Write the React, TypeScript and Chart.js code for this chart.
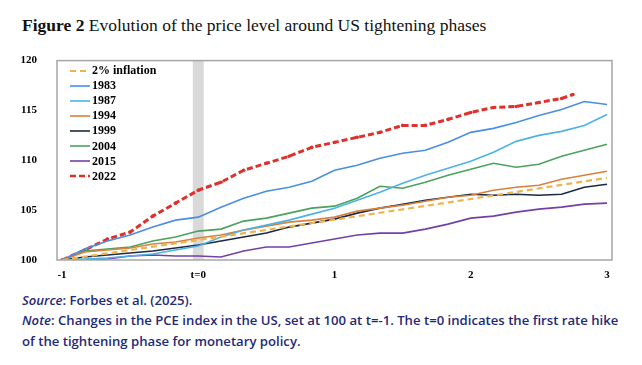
import React, { useEffect, useRef } from "react";
import { Chart, registerables } from "chart.js";
Chart.register(...registerables);

// months relative to t=0 (first rate hike); t = month / 12
const MONTHS = [-12, -10, -8, -6, -4, -2, 0, 2, 4, 6, 8, 10, 12, 14, 16, 18, 20, 22, 24, 26, 28, 30, 32, 34, 36];
const MONTHS_2022 = [-12, -10, -8, -6, -4, -2, 0, 2, 4, 6, 8, 10, 12, 14, 16, 18, 20, 22, 24, 26, 28, 30, 32, 33];
const MONTHS_TARGET = [-12, 0, 12, 24, 36];

const TARGET_2PCT = [100, 102, 104.04, 106.12, 108.24];
const S1983 = [100, 101.1, 101.9, 102.5, 103.3, 104.0, 104.3, 105.3, 106.2, 106.9, 107.3, 107.9, 109.0, 109.5, 110.2, 110.7, 111.0, 111.8, 112.8, 113.2, 113.8, 114.5, 115.1, 115.9, 115.6];
const S1987 = [100, 100.1, 100.2, 100.4, 100.6, 101.0, 101.4, 102.3, 103.0, 103.5, 104.0, 104.6, 105.2, 106.0, 106.8, 107.7, 108.5, 109.2, 109.9, 110.8, 111.9, 112.5, 112.9, 113.5, 114.6];
const S1994 = [100, 100.8, 101.0, 101.2, 101.6, 101.8, 102.2, 102.5, 103.0, 103.4, 103.8, 104.0, 104.3, 104.9, 105.2, 105.5, 105.9, 106.3, 106.5, 107.0, 107.3, 107.5, 108.1, 108.5, 108.9];
const S1999 = [100, 100.3, 100.5, 100.7, 100.9, 101.2, 101.5, 101.9, 102.3, 102.7, 103.3, 103.7, 104.1, 104.7, 105.2, 105.6, 106.0, 106.3, 106.6, 106.5, 106.6, 106.5, 106.6, 107.3, 107.6];
const S2004 = [100, 100.9, 101.1, 101.3, 101.9, 102.3, 102.9, 103.1, 103.9, 104.2, 104.7, 105.2, 105.4, 106.2, 107.4, 107.2, 107.8, 108.5, 109.1, 109.7, 109.3, 109.6, 110.4, 111.0, 111.6];
const S2015 = [100, 100.0, 100.1, 100.4, 100.5, 100.4, 100.4, 100.3, 100.9, 101.3, 101.3, 101.7, 102.1, 102.5, 102.7, 102.7, 103.1, 103.6, 104.2, 104.4, 104.8, 105.1, 105.3, 105.6, 105.7];
const S2022 = [100, 101.0, 102.1, 102.8, 104.4, 105.7, 107.0, 107.8, 109.0, 109.7, 110.4, 111.3, 111.8, 112.3, 112.8, 113.5, 113.5, 114.1, 114.8, 115.3, 115.4, 115.8, 116.2, 116.6];

const X_TICK_VALUES = [-1, 0, 1, 2, 3];
const X_TICK_LABELS = ["-1", "t=0", "1", "2", "3"];
const Y_TICK_VALUES = [100, 105, 110, 115, 120];

const SERIES = [
  { label: "2% inflation", months: MONTHS_TARGET, values: TARGET_2PCT, color: "#f0b24a", width: 2.2, dash: [6, 4], points: 0 },
  { label: "1983", months: MONTHS, values: S1983, color: "#4a8ee3", width: 1.6, dash: [], points: 0 },
  { label: "1987", months: MONTHS, values: S1987, color: "#4fb2e6", width: 1.6, dash: [], points: 0 },
  { label: "1994", months: MONTHS, values: S1994, color: "#d8803c", width: 1.6, dash: [], points: 0 },
  { label: "1999", months: MONTHS, values: S1999, color: "#1c2946", width: 1.6, dash: [], points: 0 },
  { label: "2004", months: MONTHS, values: S2004, color: "#4aa25c", width: 1.6, dash: [], points: 0 },
  { label: "2015", months: MONTHS, values: S2015, color: "#7340a8", width: 1.6, dash: [], points: 0 },
  { label: "2022", months: MONTHS_2022, values: S2022, color: "#e0302c", width: 3, dash: [6, 3], points: 1.8 },
];

const DRAW_ORDER = ["2% inflation", "1983", "1987", "1994", "2004", "2015", "1999", "2022"];

const boxPlugin = {
  id: "boxAndBand",
  beforeDatasetsDraw(chart: any) {
    const { ctx, chartArea, scales } = chart;
    const x0 = scales.x.getPixelForValue(-0.04);
    const x1 = scales.x.getPixelForValue(0.04);
    ctx.save();
    ctx.fillStyle = "#d9d9d9";
    ctx.fillRect(x0, chartArea.top, x1 - x0, chartArea.bottom - chartArea.top);
    ctx.restore();
  },
  afterDraw(chart: any) {
    const { ctx, chartArea } = chart;
    ctx.save();
    ctx.strokeStyle = "#a6a6a6";
    ctx.lineWidth = 1.5;
    ctx.strokeRect(chartArea.left, chartArea.top, chartArea.right - chartArea.left, chartArea.bottom - chartArea.top);
    ctx.restore();
  },
};

function LegendLine({ color, dash, width }: { color: string; dash: number[]; width: number }) {
  return (
    <svg width={20} height={6} style={{ display: "block" }}>
      <line x1={0} y1={3} x2={20} y2={3} stroke={color} strokeWidth={Math.min(width, 2.4)} strokeDasharray={dash.length ? dash.join(" ") : undefined} />
    </svg>
  );
}

export default function App() {
  const ref = useRef<HTMLCanvasElement | null>(null);

  useEffect(() => {
    if (!ref.current) return;
    const ordered = DRAW_ORDER.map((l) => SERIES.find((s) => s.label === l)!);
    const chart = new Chart(ref.current, {
      type: "line",
      data: {
        datasets: ordered.map((s) => ({
          label: s.label,
          data: s.months.map((m, i) => ({ x: m / 12, y: s.values[i] })),
          borderColor: s.color,
          backgroundColor: s.color,
          borderWidth: s.width,
          borderDash: s.dash,
          pointRadius: s.points,
          pointBorderWidth: 0,
          pointBackgroundColor: s.color,
          tension: 0,
          fill: false,
        })),
      },
      options: {
        responsive: false,
        animation: false,
        devicePixelRatio: 1,
        layout: { padding: { top: 2, right: 30, left: 0, bottom: 0 } },
        plugins: { legend: { display: false }, tooltip: { enabled: false } },
        scales: {
          x: {
            type: "linear",
            min: -1.0367,
            max: 3.0367,
            grid: { display: false },
            border: { display: false },
            afterBuildTicks: (s: any) => {
              s.ticks = X_TICK_VALUES.map((v) => ({ value: v }));
            },
            afterFit: (s: any) => {
              s.height = 30;
            },
            ticks: {
              autoSkip: false,
              maxRotation: 0,
              padding: 1,
              color: "#000",
              font: { family: "'Liberation Serif', 'Times New Roman', serif", size: 11, weight: "bold" },
              callback: (v: any) => {
                const i = X_TICK_VALUES.indexOf(Number(v));
                return i >= 0 ? X_TICK_LABELS[i] : "";
              },
            },
          },
          y: {
            min: 100,
            max: 120,
            grid: { display: false },
            border: { display: false },
            afterBuildTicks: (s: any) => {
              s.ticks = Y_TICK_VALUES.map((v) => ({ value: v }));
            },
            afterFit: (s: any) => {
              s.width = 57;
            },
            ticks: {
              padding: 12,
              color: "#000",
              font: { family: "'Liberation Serif', 'Times New Roman', serif", size: 11, weight: "bold" },
            },
          },
        },
      },
      plugins: [boxPlugin],
    } as any);
    return () => chart.destroy();
  }, []);

  const serif = "'Liberation Serif', 'Times New Roman', serif";
  const sans = "'Open Sans', 'Noto Sans', sans-serif";
  const noteColor = "#1f2a78";

  return (
    <div style={{ position: "fixed", left: 0, top: 0, width: 642, height: 365, background: "#fff", overflow: "hidden" }}>
      <div style={{ position: "absolute", left: 22, top: 15, fontFamily: serif, fontSize: 17.5, color: "#111", whiteSpace: "nowrap" }}>
        <b>Figure 2</b> Evolution of the price level around US tightening phases
      </div>
      <canvas ref={ref} width={642} height={248} style={{ position: "absolute", left: 0, top: 42, width: 642, height: 248 }} />
      <div style={{ position: "absolute", left: 70, top: 63 }}>
        {SERIES.map((s) => (
          <div key={s.label} style={{ display: "flex", alignItems: "center", height: 15.1 }}>
            <LegendLine color={s.color} dash={s.dash} width={s.width} />
            <span style={{ marginLeft: 2, fontFamily: serif, fontWeight: "bold", fontSize: 12, color: "#000", lineHeight: "15px" }}>{s.label}</span>
          </div>
        ))}
      </div>
      <div style={{ position: "absolute", left: 22, top: 290, fontFamily: sans, fontWeight: 600, fontSize: 13.15, color: noteColor, lineHeight: "20.4px", width: 620 }}>
        <div><i>Source</i>: Forbes et al. (2025).</div>
        <div style={{ whiteSpace: "nowrap" }}><i>Note</i>: Changes in the PCE index in the US, set at 100 at t=-1. The t=0 indicates the first rate hike</div>
        <div>of the tightening phase for monetary policy.</div>
      </div>
    </div>
  );
}
